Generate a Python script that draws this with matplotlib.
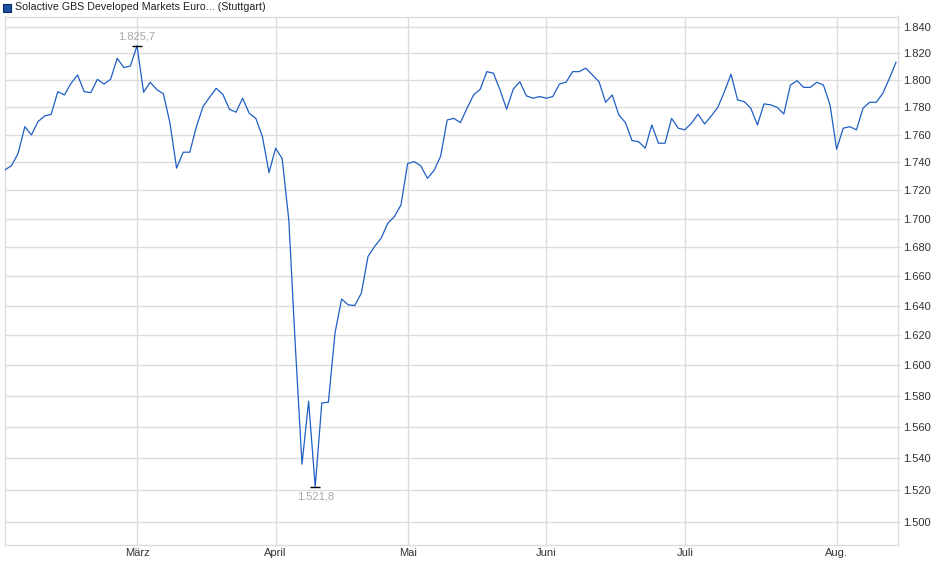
import matplotlib
matplotlib.use("Agg")
import matplotlib.pyplot as plt
from matplotlib.ticker import FixedLocator, FuncFormatter, NullLocator
from matplotlib.patches import Rectangle

# daily closes, Feb 3 - Aug 14 (trading days)
values = [
    1734.5, 1737.6, 1746.5, 1765.7, 1759.7, 1769.4, 1773.5, 1774.8, 1791.4, 1789.0,
    1797.6, 1803.8, 1791.4, 1790.7, 1800.6, 1797.1, 1800.6, 1816.3, 1809.3, 1810.5,
    1825.7, 1791.0, 1798.4, 1793.0, 1789.8, 1768.2, 1735.7, 1747.2, 1747.2, 1765.7,
    1780.4, 1787.3, 1793.9, 1789.5, 1778.5, 1776.3, 1786.6, 1775.5, 1771.8, 1758.5,
    1732.5, 1750.1, 1742.5, 1699.0, 1612.0, 1536.0, 1576.5, 1521.8, 1575.3, 1575.9,
    1621.5, 1644.4, 1640.5, 1640.0, 1648.5, 1673.6, 1680.5, 1686.3, 1696.7, 1701.4,
    1709.6, 1739.0, 1740.4, 1737.3, 1728.5, 1734.0, 1744.3, 1770.6, 1771.8, 1768.7,
    1779.2, 1789.0, 1793.2, 1806.3, 1805.1, 1792.7, 1778.5, 1793.2, 1798.8, 1788.3,
    1786.6, 1787.8, 1786.6, 1787.8, 1797.1, 1798.4, 1806.3, 1806.3, 1808.9, 1803.8,
    1798.8, 1783.6, 1789.0, 1774.3, 1768.7, 1755.6, 1754.8, 1750.1, 1767.0, 1753.7,
    1753.7, 1771.8, 1764.6, 1763.4, 1768.2, 1774.8, 1767.7, 1773.5, 1779.9, 1791.4,
    1804.4, 1785.3, 1784.1, 1779.2, 1767.0, 1782.4, 1781.7, 1779.9, 1775.0, 1796.3,
    1799.6, 1794.6, 1794.6, 1798.4, 1796.3, 1781.7, 1749.3, 1764.6, 1765.7, 1763.4,
    1779.2, 1783.6, 1783.6, 1790.2, 1801.3, 1813.3,
]
month_labels = ["März", "April", "Mai", "Juni", "Juli", "Aug."]
month_start_idx = [20, 41, 61, 82, 103, 126]
y_ticks = list(range(1500, 1841, 20))

series_name = "Solactive GBS Developed Markets Euro... (Stuttgart)"
line_color = "#1f5fc4"
grid_color = "#dcdcdc"
text_color = "#333333"


def de_fmt(v, decimals=0):
    s = f"{v:,.{decimals}f}"
    return s.replace(",", "X").replace(".", ",").replace("X", ".")


plt.rcParams["font.family"] = ["Liberation Sans", "DejaVu Sans"]

fig = plt.figure(figsize=(9.4, 5.79), dpi=100, facecolor="white")
W, H = 940, 579
ax = fig.add_axes([5 / W, 1 - 544.5 / H, (898 - 5) / W, (544.5 - 16.5) / H])

x = list(range(len(values)))
ax.plot(x, values, color=line_color, lw=0.9, zorder=3)

ax.set_yscale("log")
ax.set_ylim(1485.9, 1847.9)
ax.set_xlim(0, 135.3)

ax.yaxis.set_major_locator(FixedLocator(y_ticks))
ax.yaxis.set_minor_locator(NullLocator())
ax.yaxis.set_major_formatter(FuncFormatter(lambda v, p: de_fmt(v)))
ax.yaxis.tick_right()
ax.tick_params(axis="y", length=2, color=grid_color, labelsize=8,
               labelcolor=text_color, pad=1.5)

ax.set_xticks(month_start_idx)
ax.set_xticklabels(month_labels)
ax.tick_params(axis="x", length=0, labelsize=8, labelcolor=text_color, pad=2.5)

ax.grid(True, color=grid_color, lw=1.0, zorder=0)
for s in ax.spines.values():
    s.set_color(grid_color)
    s.set_linewidth(1.0)

# extremes
i_max = values.index(max(values))
i_min = values.index(min(values))
for i, dy, va in [(i_max, 3, "bottom"), (i_min, -3.5, "top")]:
    ax.plot(i, values[i], marker="_", ms=7, mew=1.0, color="black", zorder=4)
    ax.annotate(de_fmt(values[i], 1), (i, values[i]), xytext=(0, dy),
                textcoords="offset points", ha="center", va=va,
                fontsize=8, color="#a8a8a8")

# legend square + title
fig.patches.append(Rectangle((3 / W, 1 - 11.5 / H), 8 / W, 8 / H,
                             transform=fig.transFigure, facecolor="#1b4fa8",
                             edgecolor="#0d2a5c", lw=0.8))
fig.text(15 / W, 1 - 7 / H, series_name, fontsize=7.7, color="#222222",
         va="center", ha="left")

fig.savefig("out.png", dpi=100, facecolor="white")
